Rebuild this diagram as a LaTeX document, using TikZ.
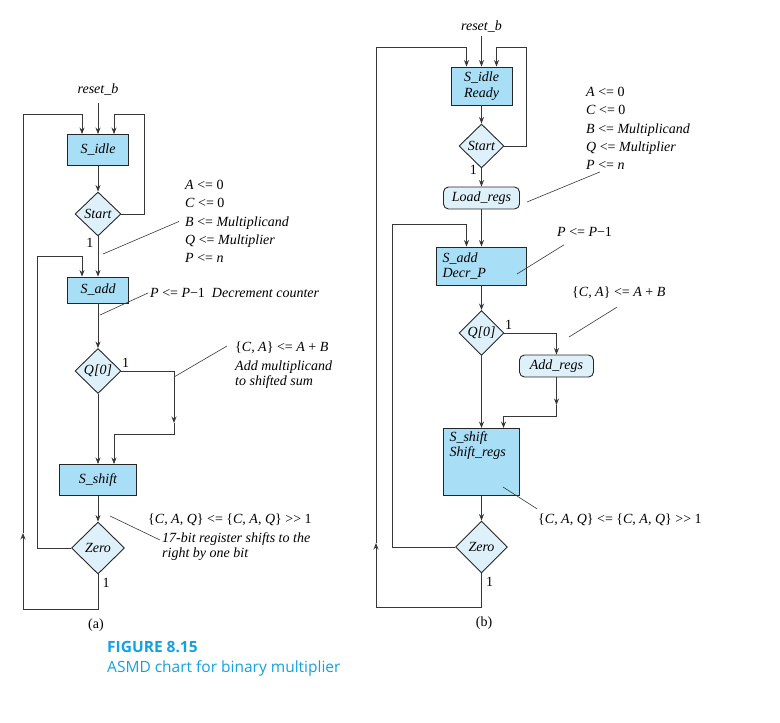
\documentclass[tikz,border=0pt]{standalone}
\usepackage{fontspec}
\setmainfont{Liberation Serif}
\newfontfamily\capfont{Open Sans}
\usetikzlibrary{arrows.meta,positioning,shapes.geometric}
\definecolor{boxfill}{RGB}{168,222,246}
\definecolor{decfill}{RGB}{222,241,250}
\definecolor{capblue}{RGB}{20,160,225}
\definecolor{linegray}{RGB}{55,55,55}

\begin{document}
\begin{tikzpicture}[x=1pt,y=-1pt,on grid,>={Stealth[length=6.5pt,width=5pt]},
  every node/.style={font=\fontsize{14}{15.5}\selectfont},
  stbox/.style={rectangle,draw=black!85,line width=0.9pt,fill=boxfill,font=\fontsize{14}{15.5}\selectfont\itshape,inner sep=3pt},
  dec/.style={diamond,draw=black!85,line width=0.9pt,fill=decfill,font=\fontsize{14}{15.5}\selectfont\itshape,inner sep=0pt},
  cond/.style={rectangle,rounded corners=5pt,draw=black!85,line width=0.9pt,fill=decfill,font=\fontsize{14}{15.5}\selectfont\itshape,minimum height=22pt,inner sep=2pt},
  note/.style={inner sep=0pt,align=left,font=\fontsize{14}{18.3}\selectfont},
  flow/.style={draw=linegray,line width=0.8pt},
  leader/.style={draw=linegray,line width=0.6pt}]
  \useasboundingbox (0,0) rectangle (780,723);

  \node (rstA) at (98,90) {\textit{reset\_b}};
  \node[stbox,minimum width=61pt,minimum height=31pt] (idleA) at (98,150) {S\_idle};
  \node[dec,minimum width=46pt,minimum height=44pt] (startA) [below=64pt of idleA] {Start};
  \node[stbox,minimum width=61pt,minimum height=26pt] (addA) [below=76pt of startA] {S\_add};
  \node[dec,minimum width=46pt,minimum height=45pt] (q0A) [below=81pt of addA] {Q[0]};
  \node[stbox,minimum width=77pt,minimum height=31pt] (shiftA) [below=109pt of q0A] {S\_shift};
  \node[dec,minimum width=53pt,minimum height=52pt] (zeroA) [below=68pt of shiftA] {Zero};
  \node (capA) at (96,625) {(a)};
  \coordinate (midA) at (174,423);
  \coordinate (upA) at (23,533);

  \draw[flow,->,shorten <=4pt] (rstA) -- (idleA);
  \draw[flow,->] (idleA) -- (startA);
  \draw[flow,->] (startA) -- node[pos=.15,left=1pt]{1} (addA);
  \draw[flow,->] (startA) -| (144,114) -| ([xshift=16pt]idleA.north);
  \draw[flow,->] (addA) -- (q0A);
  \draw[flow,->] (q0A) -- (shiftA);
  \draw[flow,->] (q0A) -| node[pos=.04,above]{1} (midA);
  \draw[flow,->] (midA) -- (174,434) -| ([xshift=16pt]shiftA.north);
  \draw[flow,->] (shiftA) -- (zeroA);
  \draw[flow,->] (zeroA) -| (37,256) -| ([xshift=-16pt]addA.north);
  \draw[flow,->] (zeroA) -- node[pos=.25,right=1pt]{1} (98,609) -| (upA);
  \draw[flow,->] (upA) -- (23,114) -| ([xshift=-16pt]idleA.north);

  \node[note,anchor=north west] (ldA) at (185,180) {\textit{A} <= 0\\\textit{C} <= 0\\\textit{B} <= \textit{Multiplicand}\\\textit{Q} <= \textit{Multiplier}\\\textit{P} <= \textit{n}};
  \node[note,anchor=west] (ldB) at (150,293) {\textit{P} <= \textit{P}−1\enspace\textit{Decrement counter}};
  \node[note,anchor=north west,font=\fontsize{14}{15.5}\selectfont] (ldC) at (235,342) {\{\textit{C, A}\} <= \textit{A} + \textit{B}\\[3pt]\textit{Add multiplicand}\\\textit{to shifted sum}};
  \node[note,anchor=west] (ldD) at (148,520) {\{\textit{C, A, Q}\} <= \{\textit{C, A, Q}\} >{}> 1};
  \node[note,anchor=north west,font=\fontsize{14}{15}\selectfont\itshape] (ldD2) at (162,532) {17-bit register shifts to the\\right by one bit};
  \coordinate (tipA) at (103,254);
  \coordinate (tipB) at (100,315);
  \coordinate (tipC) at (174,377);
  \coordinate (tipD) at (110,516);
  \draw[leader] ([xshift=-6pt]ldA.west) -- (tipA);
  \draw[leader] ([xshift=-2pt]ldB.west) -- (tipB);
  \draw[leader] ([xshift=-8pt,yshift=-4pt]ldC.north west) -- (tipC);
  \draw[leader] ([xshift=-2pt,yshift=-8pt]ldD2.north west) -- (tipD);

  \node (rstB) at (481.5,27) {\textit{reset\_b}};
  \node[stbox,minimum width=61pt,minimum height=38pt,align=center] (idleB) at (481.5,86) {S\_idle\\Ready};
  \node[dec,minimum width=45pt,minimum height=44pt] (startB) [below=60pt of idleB] {Start};
  \node[cond,minimum width=76pt] (loadB) [below=52pt of startB] {Load\_regs};
  \node[stbox,minimum height=38pt,text width=78pt,inner xsep=6pt,inner ysep=3pt,align=left] (addB) [below=68pt of loadB] {S\_add\\Decr\_P};
  \node[dec,minimum width=45pt,minimum height=45pt] (q0B) [below=67pt of addB] {Q[0]};
  \node[cond,minimum width=74pt] (addrB) [below right=33pt and 75pt of q0B] {Add\_regs};
  \node[stbox,minimum height=63pt,text width=64pt,inner xsep=6pt,inner ysep=3pt,align=left] (shiftB) [below=129pt of q0B] {S\_shift\\Shift\_regs\\\strut\\\strut};
  \node[dec,minimum width=52pt,minimum height=52pt] (zeroB) [below=85pt of shiftB] {Zero};
  \node (capB) at (484,623) {(b)};
  \coordinate (midB) at (556.5,405);
  \coordinate (upB) at (376,543);

  \draw[flow,->] (rstB) -- (idleB);
  \draw[flow,->] (idleB) -- (startB);
  \draw[flow,->] (startB) -- node[pos=.1,left=1pt]{1} (loadB);
  \draw[flow,->] (startB) -| (526,47) -| ([xshift=15pt]idleB.north);
  \draw[flow,->] (loadB) -- (addB);
  \draw[flow,->] (addB) -- (q0B);
  \draw[flow,->] (q0B) -| node[pos=.04,above]{1} (addrB);
  \draw[flow,->] (addrB) -- (midB);
  \draw[flow,->] (midB) -- (556.5,416) -| ([xshift=22pt]shiftB.north);
  \draw[flow,->] (q0B) -- (shiftB);
  \draw[flow,->] (shiftB) -- (zeroB);
  \draw[flow,->] (zeroB) -| (392,224) -| ([xshift=-15pt]addB.north);
  \draw[flow,->] (zeroB) -- node[pos=.25,right=1pt]{1} (481.5,607) -| (upB);
  \draw[flow,->] (upB) -- (376,47) -| ([xshift=-15pt]idleB.north);

  \node[note,anchor=north west] (ldE) at (586,87) {\textit{A} <= 0\\\textit{C} <= 0\\\textit{B} <= \textit{Multiplicand}\\\textit{Q} <= \textit{Multiplier}\\\textit{P} <= \textit{n}};
  \node[note,anchor=west] (ldF) at (557,232) {\textit{P} <= \textit{P}−1};
  \node[note,anchor=west] (ldG) at (572,293) {\{\textit{C, A}\} <= \textit{A} + \textit{B}};
  \node[note,anchor=west] (ldH) at (538,520) {\{\textit{C, A, Q}\} <= \{\textit{C, A, Q}\} >{}> 1};
  \coordinate (tipE) at (527,202);
  \coordinate (tipF) at (517,274);
  \coordinate (tipG) at (569,337);
  \coordinate (tipH) at (503,487);
  \draw[leader] ([xshift=14pt,yshift=-2pt]ldE.south west) -- (tipE);
  \draw[leader] ([xshift=7pt,yshift=-8pt]ldF.south west) -- (tipF);
  \draw[leader] ([xshift=45pt,yshift=-8pt]ldG.south west) -- (tipG);
  \draw[leader] ([xshift=-1pt,yshift=5pt]ldH.north west) -- (tipH);

  \node[anchor=north west,inner sep=0pt,align=left,text=capblue,font=\capfont\fontsize{15.5}{20}\selectfont] (cap) at (107,641) {\textbf{FIGURE 8.15}\\ASMD chart for binary multiplier};
\end{tikzpicture}
\end{document}
